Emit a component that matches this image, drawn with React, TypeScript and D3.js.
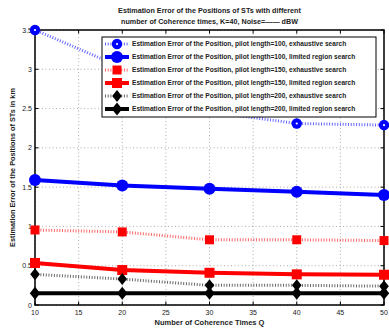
import React from 'react';
import * as d3 from 'd3';

const coherenceTimes = [10, 20, 30, 40, 50];
const pilot100Exhaustive = [3.5, 3.02, 2.46, 2.31, 2.29];
const pilot100Limited = [1.59, 1.52, 1.48, 1.44, 1.4];
const pilot150Exhaustive = [0.955, 0.93, 0.83, 0.83, 0.82];
const pilot150Limited = [0.535, 0.445, 0.41, 0.39, 0.385];
const pilot200Exhaustive = [0.39, 0.33, 0.25, 0.25, 0.24];
const pilot200Limited = [0.15, 0.15, 0.15, 0.15, 0.15];
const xTicks = [10, 15, 20, 25, 30, 35, 40, 45, 50];
const yTicks = [0, 0.5, 1, 1.5, 2, 2.5, 3, 3.5];
const yTickLabels = ['0', '0.5', '1', '1.5', '2', '2.5', '3', '3.5'];
const legendLabels = [
  'Estimation Error of the Position, pilot length=100, exhaustive search',
  'Estimation Error of the Position, pilot length=100, limited region search',
  'Estimation Error of the Position, pilot length=150, exhaustive search',
  'Estimation Error of the Position, pilot length=150, limited region search',
  'Estimation Error of the Position, pilot length=200, exhaustive search',
  'Estimation Error of the Position, pilot length=200, limited region search',
];
const titleLines = [
  'Estimation Error of the Positions of STs with different',
  'number of Coherence times, K=40, Noise=—— dBW',
];

type Series = { values: number[]; color: string; dotted: boolean; marker: 'circle' | 'square' | 'diamond' };
const seriesList: Series[] = [
  { values: pilot100Exhaustive, color: '#0000ff', dotted: true, marker: 'circle' },
  { values: pilot100Limited, color: '#0000ff', dotted: false, marker: 'circle' },
  { values: pilot150Exhaustive, color: '#ff0000', dotted: true, marker: 'square' },
  { values: pilot150Limited, color: '#ff0000', dotted: false, marker: 'square' },
  { values: pilot200Exhaustive, color: '#000000', dotted: true, marker: 'diamond' },
  { values: pilot200Limited, color: '#000000', dotted: false, marker: 'diamond' },
];

const W = 389, H = 331;
const L = 35, R = 384, T = 30, B = 305;
const FONT = '"Liberation Sans", Arial, Helvetica, sans-serif';

function Marker({ x, y, s }: { x: number; y: number; s: Series }) {
  const big = !s.dotted;
  if (s.marker === 'circle') {
    const r = big ? 6 : 5.2;
    return (
      <g>
        <circle cx={x} cy={y} r={r} fill={s.color} />
        {s.dotted && <circle cx={x} cy={y} r={1.1} fill="#fff" />}
      </g>
    );
  }
  if (s.marker === 'square') {
    const h = big ? 5 : 4.5;
    return <rect x={x - h} y={y - h} width={2 * h} height={2 * h} fill={s.color} />;
  }
  const d = big ? 6.5 : 6;
  return <path d={`M${x},${y - d}L${x + d * 0.8},${y}L${x},${y + d}L${x - d * 0.8},${y}Z`} fill={s.color} />;
}

export default function App() {
  const x = d3.scaleLinear().domain([10, 50]).range([L, R]);
  const y = d3.scaleLinear().domain([0, 3.5]).range([B, T]);
  const line = d3
    .line<number>()
    .x((_, i) => x(coherenceTimes[i]))
    .y((v) => y(v));

  const lgX = 102, lgY = 37, lgW = 274, lgH = 80;
  const rowY = (i: number) => 44 + i * 13;

  return (
    <svg width={W} height={H} style={{ position: 'absolute', left: 0, top: 0, background: '#fff' }} fontFamily={FONT}>
      <rect x={0} y={0} width={W} height={H} fill="#fff" />
      {titleLines.map((t, i) => (
        <text key={i} x={(L + R) / 2} y={13 + i * 11} textAnchor="middle" fontSize={7.2} fontWeight="bold" fill="#222">
          {t}
        </text>
      ))}
      {xTicks.map((t) => (
        <line key={'gx' + t} x1={x(t)} x2={x(t)} y1={T} y2={B} stroke="#999" strokeWidth={0.8} strokeDasharray="1,2.5" />
      ))}
      {yTicks.map((t) => (
        <line key={'gy' + t} x1={L} x2={R} y1={y(t)} y2={y(t)} stroke="#999" strokeWidth={0.8} strokeDasharray="1,2.5" />
      ))}
      {xTicks.map((t) => (
        <g key={'tx' + t}>
          <line x1={x(t)} x2={x(t)} y1={B} y2={B - 3.5} stroke="#000" strokeWidth={1} />
          <line x1={x(t)} x2={x(t)} y1={T} y2={T + 3.5} stroke="#000" strokeWidth={1} />
          <text x={x(t)} y={B + 9.5} textAnchor="middle" fontSize={7} fill="#222">
            {t}
          </text>
        </g>
      ))}
      {yTicks.map((t, i) => (
        <g key={'ty' + t}>
          <line x1={L} x2={L + 3.5} y1={y(t)} y2={y(t)} stroke="#000" strokeWidth={1} />
          <line x1={R} x2={R - 3.5} y1={y(t)} y2={y(t)} stroke="#000" strokeWidth={1} />
          <text x={L - 3} y={y(t) + 2.5} textAnchor="end" fontSize={7} fill="#222">
            {yTickLabels[i]}
          </text>
        </g>
      ))}
      <rect x={L} y={T} width={R - L} height={B - T} fill="none" stroke="#000" strokeWidth={1.5} />
      <text x={(L + R) / 2} y={325} textAnchor="middle" fontSize={7.5} fontWeight="bold" fill="#222">
        Number of Coherence Times Q
      </text>
      <text
        transform={`translate(15,${(T + B) / 2}) rotate(-90)`}
        textAnchor="middle"
        fontSize={7.3}
        fontWeight="bold"
        fill="#222"
      >
        Estimation Error of the Positions of STs in km
      </text>
      {seriesList.map((s, si) => (
        <g key={'s' + si}>
          <path
            d={line(s.values) || ''}
            fill="none"
            stroke={s.color}
            strokeWidth={s.dotted ? 3 : 4}
            strokeDasharray={s.dotted ? '1,1.7' : undefined}
            strokeOpacity={s.dotted ? 0.6 : 1}
          />
          {s.values.map((v, i) => (
            <Marker key={i} x={x(coherenceTimes[i])} y={y(v)} s={s} />
          ))}
        </g>
      ))}
      <rect x={lgX} y={lgY} width={lgW} height={lgH} fill="#fff" stroke="#000" strokeWidth={1} />
      {seriesList.map((s, i) => (
        <g key={'lg' + i}>
          <line
            x1={105}
            x2={129}
            y1={rowY(i)}
            y2={rowY(i)}
            stroke={s.color}
            strokeWidth={s.dotted ? 3 : 4}
            strokeDasharray={s.dotted ? '1,1.7' : undefined}
            strokeOpacity={s.dotted ? 0.6 : 1}
          />
          <Marker x={117} y={rowY(i)} s={s} />
          <text x={132} y={rowY(i) + 2.4} fontSize={6.6} fontWeight="bold" fill="#222">
            {legendLabels[i]}
          </text>
        </g>
      ))}
    </svg>
  );
}
